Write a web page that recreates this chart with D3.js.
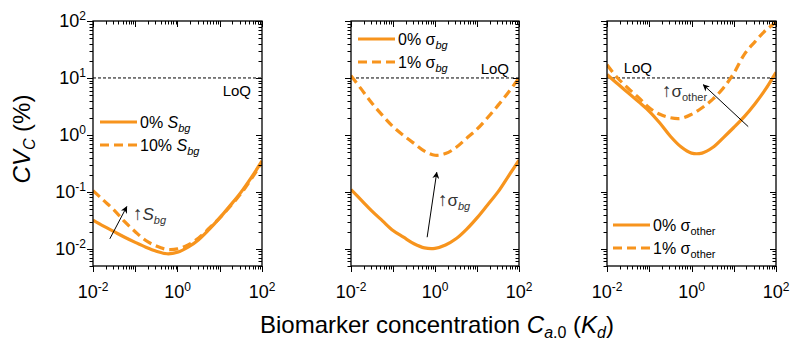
<!DOCTYPE html>
<html>
<head>
<meta charset="utf-8">
<script src="https://cdn.jsdelivr.net/npm/d3@7"></script>
<style>
  body { margin: 0; background: #fff; }
  svg { font-family: "Liberation Sans", Arial, sans-serif; }
</style>
</head>
<body>
<script>
// concentration C_a,0 in units of K_d (quarter-decade steps)
let conc = [0.01, 0.0178, 0.0316, 0.0562, 0.1, 0.178, 0.316, 0.562, 1, 1.78, 3.16, 5.62, 10, 17.8, 31.6, 56.2, 100];

// panel 1 : background signal S_bg
let sbg0 = [0.032, 0.025, 0.020, 0.016, 0.013, 0.0107, 0.0091, 0.0082, 0.0087, 0.0107, 0.0145, 0.022, 0.035, 0.058, 0.098, 0.18, 0.35];
let sbg10 = [0.105, 0.071, 0.048, 0.030, 0.020, 0.014, 0.0112, 0.0098, 0.0100, 0.0117, 0.0155, 0.023, 0.035, 0.056, 0.093, 0.17, 0.33];

// panel 2 : background noise sigma_bg
let sigbg0 = [0.11, 0.071, 0.046, 0.031, 0.021, 0.016, 0.0123, 0.0104, 0.0102, 0.0117, 0.015, 0.022, 0.035, 0.059, 0.10, 0.19, 0.36];
let sigbg1 = [11, 6.3, 3.6, 2.2, 1.4, 0.98, 0.71, 0.52, 0.44, 0.47, 0.60, 0.87, 1.26, 2.0, 3.3, 5.6, 10];

// panel 3 : other noise sigma_other
let sigoth0 = [11.5, 7.9, 5.5, 3.8, 2.6, 1.62, 0.95, 0.62, 0.48, 0.48, 0.60, 0.89, 1.35, 2.1, 3.5, 6.3, 12.6];
let sigoth1 = [17, 10, 6.6, 4.5, 3.0, 2.3, 2.0, 1.95, 2.3, 3.0, 4.2, 6.6, 12, 26, 43, 68, 95];

let xTickExps = [-2, 0, 2];
let yTickExps = [-2, -1, 0, 1, 2];
let loq = 10;

let orange = "#F7941D";

let W = 792, H = 346;
let svg = d3.select("body").append("svg")
    .attr("width", W)
    .attr("height", H);

let yTop = 21, yBot = 266;
let y = d3.scaleLog().domain([0.005, 100]).range([yBot, yTop]);

let panels = [
  { x0: 93, x1: 262, series: [sbg0, sbg10],
    legend: { x: 100, y: 122, labels: [["0% ", "S", "bg"], ["10% ", "S", "bg"]] },
    loqLabel: { x: 251, y: 96 },
    arrow: { from: [0.025, 0.015], to: [0.063, 0.055] },
    arrowLabel: { x: 133, y: 220, main: "S", sub: "bg", italicMain: true } },
  { x0: 351, x1: 519, series: [sigbg0, sigbg1],
    legend: { x: 358, y: 39, labels: [["0% ", "σ", "bg"], ["1% ", "σ", "bg"]] },
    loqLabel: { x: 509, y: 74 },
    arrow: { from: [0.65, 0.016], to: [1.1, 0.22] },
    arrowLabel: { x: 438, y: 206, main: "σ", sub: "bg", italicMain: false } },
  { x0: 607, x1: 776, series: [sigoth0, sigoth1],
    legend: { x: 613, y: 225, labels: [["0% ", "σ", "other"], ["1% ", "σ", "other"]] },
    loqLabel: { x: 652, y: 73 },
    arrow: { from: [22, 1.4], to: [1.9, 7.6] },
    arrowLabel: { x: 662, y: 97, main: "σ", sub: "other", italicMain: false } }
];

svg.append("defs").append("marker")
    .attr("id", "head")
    .attr("viewBox", "0 0 10 10")
    .attr("refX", 9).attr("refY", 5)
    .attr("markerWidth", 7).attr("markerHeight", 7)
    .attr("markerUnits", "userSpaceOnUse")
    .attr("orient", "auto")
  .append("path")
    .attr("d", "M0,0 L10,5 L0,10 L3,5 Z")
    .attr("fill", "#000");

// minor tick values for a log axis
function logTicks(lo, hi) {
  let out = [];
  for (let e = Math.floor(Math.log10(lo)); e <= Math.ceil(Math.log10(hi)); e++) {
    for (let m = 1; m <= 9; m++) {
      let v = m * Math.pow(10, e);
      if (v >= lo * 0.999 && v <= hi * 1.001) out.push({ v: v, major: m === 1 });
    }
  }
  return out;
}

panels.forEach(function(p, i) {
  let x = d3.scaleLog().domain([0.01, 100]).range([p.x0, p.x1]);
  let g = svg.append("g");

  g.append("clipPath").attr("id", "clip" + i)
    .append("rect")
      .attr("x", p.x0).attr("y", yTop)
      .attr("width", p.x1 - p.x0).attr("height", yBot - yTop);

  // LoQ line
  g.append("line")
      .attr("x1", p.x0).attr("x2", p.x1)
      .attr("y1", y(loq)).attr("y2", y(loq))
      .attr("stroke", "#000")
      .attr("stroke-width", 1)
      .attr("stroke-dasharray", "3,2");
  g.append("text")
      .attr("x", p.loqLabel.x).attr("y", p.loqLabel.y)
      .attr("text-anchor", "end")
      .style("font-size", "15px")
      .text("LoQ");

  // curves
  let line = d3.line()
      .x(function(d) { return x(d[0]); })
      .y(function(d) { return y(d[1]); })
      .curve(d3.curveCatmullRom.alpha(0.5));

  p.series.forEach(function(s, k) {
    g.append("path")
        .datum(conc.map(function(c, j) { return [c, s[j]]; }))
        .attr("clip-path", "url(#clip" + i + ")")
        .attr("fill", "none")
        .attr("stroke", orange)
        .attr("stroke-width", 3.2)
        .attr("stroke-dasharray", k === 1 ? "9,5" : null)
        .attr("d", line);
  });

  // legend
  p.legend.labels.forEach(function(lab, k) {
    let ly = p.legend.y + k * 23;
    g.append("line")
        .attr("x1", p.legend.x).attr("x2", p.legend.x + 37)
        .attr("y1", ly).attr("y2", ly)
        .attr("stroke", orange)
        .attr("stroke-width", 3.2)
        .attr("stroke-dasharray", k === 1 ? "9,5" : null);
    let t = g.append("text")
        .attr("x", p.legend.x + 40).attr("y", ly + 6)
        .style("font-size", "16px");
    t.append("tspan").text(lab[0]);
    t.append("tspan").style("font-style", lab[1] === "S" ? "italic" : "normal").text(lab[1]);
    t.append("tspan").attr("dy", 4).style("font-size", "11px")
        .style("font-style", lab[2] === "bg" ? "italic" : "normal").text(lab[2]);
  });

  // arrow
  g.append("line")
      .attr("x1", x(p.arrow.from[0])).attr("y1", y(p.arrow.from[1]))
      .attr("x2", x(p.arrow.to[0])).attr("y2", y(p.arrow.to[1]))
      .attr("stroke", "#000")
      .attr("stroke-width", 1)
      .attr("marker-end", "url(#head)");
  let at = g.append("text")
      .attr("x", p.arrowLabel.x).attr("y", p.arrowLabel.y)
      .style("font-size", "17px")
      .attr("fill", "#333");
  at.append("tspan").style("font-size", "19px").text("↑");
  at.append("tspan").style("font-style", p.arrowLabel.italicMain ? "italic" : "normal").text(p.arrowLabel.main);
  at.append("tspan").attr("dy", 4).style("font-size", "11px")
      .style("font-style", p.arrowLabel.sub === "bg" ? "italic" : "normal").text(p.arrowLabel.sub);

  // frame
  g.append("rect")
      .attr("x", p.x0).attr("y", yTop)
      .attr("width", p.x1 - p.x0).attr("height", yBot - yTop)
      .attr("fill", "none")
      .attr("stroke", "#000")
      .attr("stroke-width", 1.3);

  // x ticks: bottom outward, top inward
  logTicks(0.01, 100).forEach(function(t) {
    let len = t.major ? 6 : 3.5;
    let xx = Math.round(x(t.v)) + 0.5;
    g.append("line").attr("x1", xx).attr("x2", xx)
        .attr("y1", yBot).attr("y2", yBot + len).attr("stroke", "#000");
    g.append("line").attr("x1", xx).attr("x2", xx)
        .attr("y1", yTop).attr("y2", yTop + len).attr("stroke", "#000");
  });
  // y ticks: left outward, right inward
  logTicks(0.005, 100).forEach(function(t) {
    let len = t.major ? 6 : 3.5;
    let yy = Math.round(y(t.v)) + 0.5;
    g.append("line").attr("x1", p.x0 - len).attr("x2", p.x0)
        .attr("y1", yy).attr("y2", yy).attr("stroke", "#000");
    g.append("line").attr("x1", p.x1 - len).attr("x2", p.x1)
        .attr("y1", yy).attr("y2", yy).attr("stroke", "#000");
  });

  // x tick labels
  xTickExps.forEach(function(e) {
    let t = g.append("text")
        .attr("x", x(Math.pow(10, e))).attr("y", 298)
        .attr("text-anchor", "middle")
        .style("font-size", "18px");
    t.append("tspan").text("10");
    t.append("tspan").attr("dy", -7).style("font-size", "12px").text(e);
  });

  // y tick labels (first panel only)
  if (i === 0) {
    yTickExps.forEach(function(e) {
      let t = g.append("text")
          .attr("x", 86).attr("y", y(Math.pow(10, e)) + 6)
          .attr("text-anchor", "end")
          .style("font-size", "18px");
      t.append("tspan").text("10");
      t.append("tspan").attr("dy", -7).style("font-size", "12px").text(e);
    });
  }
});

// axis titles
let yt = svg.append("text")
    .attr("transform", "translate(30,139) rotate(-90)")
    .attr("text-anchor", "middle")
    .style("font-size", "24px");
yt.append("tspan").style("font-style", "italic").text("CV");
yt.append("tspan").attr("dy", 5).style("font-size", "16px").style("font-style", "italic").text("C");
yt.append("tspan").attr("dy", -5).text(" (%)");

let xt = svg.append("text")
    .attr("x", 437).attr("y", 333)
    .attr("text-anchor", "middle")
    .style("font-size", "24px");
xt.append("tspan").text("Biomarker concentration ");
xt.append("tspan").style("font-style", "italic").text("C");
xt.append("tspan").attr("dy", 5).style("font-size", "16px").style("font-style", "italic").text("a");
xt.append("tspan").style("font-size", "16px").text(".0");
xt.append("tspan").attr("dy", -5).text(" (");
xt.append("tspan").style("font-style", "italic").text("K");
xt.append("tspan").attr("dy", 5).style("font-size", "16px").style("font-style", "italic").text("d");
xt.append("tspan").attr("dy", -5).text(")");
</script>
</body>
</html>
